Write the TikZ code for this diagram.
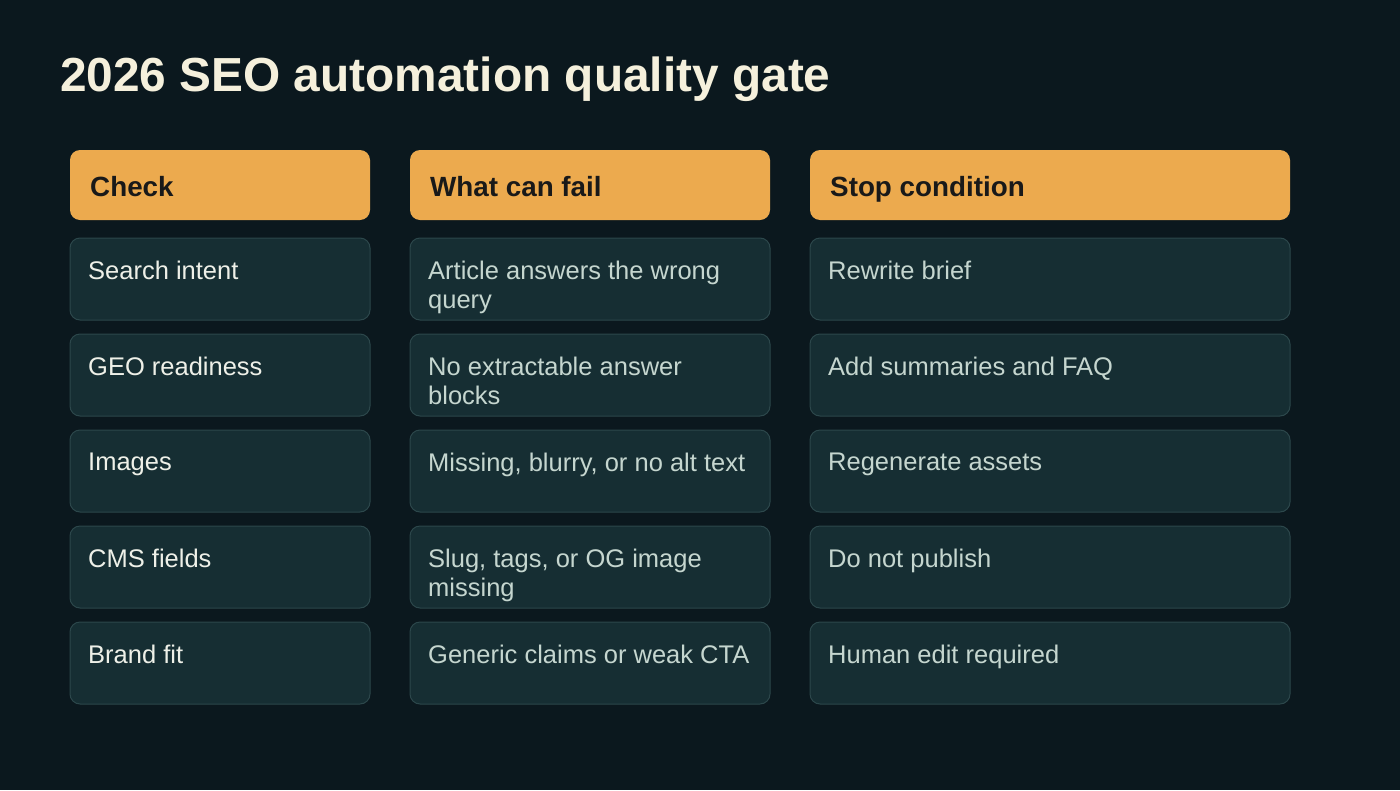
\documentclass[tikz,border=0pt]{standalone}
\usepackage{fontspec}
\setmainfont{Liberation Sans}
\usetikzlibrary{positioning,calc}
\definecolor{bgdark}{HTML}{0B181E}
\definecolor{hdrgold}{HTML}{ECAA4E}
\definecolor{cellfill}{HTML}{162E33}
\definecolor{cellline}{HTML}{2C474B}
\definecolor{titlecol}{HTML}{F5F0DC}
\definecolor{keytext}{HTML}{EEF0E8}
\definecolor{bodytext}{HTML}{C5D6CF}
\tikzset{
  hdr/.style={fill=hdrgold,rounded corners=10pt},
  cell/.style={fill=cellfill,draw=cellline,line width=1pt,rounded corners=10pt},
  hdrtxt/.style={anchor=base west,inner sep=0pt,font=\fontsize{27.8}{32}\selectfont\bfseries,text=black!90},
  celltxt/.style={anchor=north west,inner sep=0pt,align=left,font=\fontsize{25.5}{29}\selectfont,text=bodytext}
}
\begin{document}
\begin{tikzpicture}[x=1pt,y=-1pt]
\fill[bgdark] (0,0) rectangle (1400,790);
\useasboundingbox (0,0) rectangle (1400,790);
\node[anchor=base west,inner sep=0pt,text=titlecol,font=\fontsize{47.8}{54}\selectfont\bfseries]
  (title) at (60,91) {2026 SEO automation quality gate};
% header row
\fill[hdr] (70,150) rectangle (370,220);
\fill[hdr] (410,150) rectangle (770,220);
\fill[hdr] (810,150) rectangle (1290,220);
\node[hdrtxt] (hcheck) at (90,196) {Check};
\node[hdrtxt] (hfail)  at (430,196) {What can fail};
\node[hdrtxt] (hstop)  at (830,196) {Stop condition};
% body rows
\foreach \y/\ca/\cb/\cc [count=\i] in {
  238/Search intent/{Article answers the wrong\\query}/Rewrite brief,
  334/GEO readiness/{No extractable answer\\blocks}/Add summaries and FAQ,
  430/Images/{Missing, blurry, or no alt text}/Regenerate assets,
  526/CMS fields/{Slug, tags, or OG image\\missing}/Do not publish,
  622/Brand fit/Generic claims or weak CTA/Human edit required}
{
  \draw[cell] (70,\y) rectangle (370,\y+82);
  \draw[cell] (410,\y) rectangle (770,\y+82);
  \draw[cell] (810,\y) rectangle (1290,\y+82);
  \node[celltxt,text=keytext] (key\i) at (88,\y+23) {\ca};
  \node[celltxt] (fail\i) at (428,\y+23) {\cb};
  \node[celltxt] (stop\i) at (828,\y+23) {\cc};
}
\end{tikzpicture}
\end{document}
